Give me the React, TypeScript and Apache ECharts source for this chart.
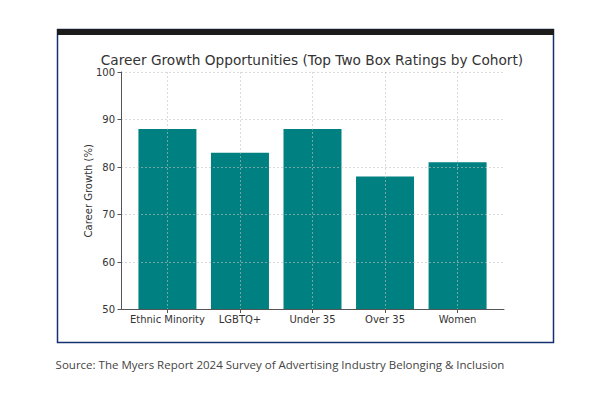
import React, { useEffect, useRef } from "react";
import * as echarts from "echarts";

const categories = ["Ethnic Minority", "LGBTQ+", "Under 35", "Over 35", "Women"];
const values = [88, 83, 88, 78, 81];
const titleText = "Career Growth Opportunities (Top Two Box Ratings by Cohort)";
const yAxisName = "Career Growth (%)";
const sourceText = "Source: The Myers Report 2024 Survey of Advertising Industry Belonging & Inclusion";

export default function App() {
  const ref = useRef<HTMLDivElement>(null);
  useEffect(() => {
    if (!ref.current) return;
    const chart = echarts.init(ref.current, undefined, { renderer: "svg" });
    const idx = categories.map((_, i) => i);
    const grid = "rgba(195,195,195,0.75)";
    chart.setOption({
      animation: false,
      backgroundColor: "#ffffff",
      grid: { left: 121, right: 108, top: 72, bottom: 103.5 },
      xAxis: {
        type: "value",
        min: -0.64,
        max: 4.64,
        z: 5,
        axisLine: { show: true, onZero: false, lineStyle: { color: "#555", width: 1 } },
        axisTick: { show: true, customValues: idx, length: 3.5, lineStyle: { color: "#555" } },
        axisLabel: {
          customValues: idx,
          formatter: (v: number) => categories[Math.round(v)] ?? "",
          fontFamily: "DejaVu Sans",
          fontSize: 10,
          color: "#333",
          margin: 5,
        },
        splitLine: { show: true, lineStyle: { color: grid, type: [2, 2], width: 0.8 } },
      },
      yAxis: {
        type: "value",
        min: 50,
        max: 100,
        interval: 10,
        z: 5,
        name: yAxisName,
        nameLocation: "middle",
        nameGap: 28,
        nameMoveOverlap: false,
        nameRotate: 90,
        nameTextStyle: { fontFamily: "DejaVu Sans", fontSize: 10, color: "#333" },
        axisLine: { show: true, onZero: false, lineStyle: { color: "#555", width: 1 } },
        axisTick: { show: true, length: 3.5, lineStyle: { color: "#555" } },
        axisLabel: { fontFamily: "DejaVu Sans", fontSize: 10, color: "#333", margin: 6 },
        splitLine: { show: true, lineStyle: { color: grid, type: [2, 2], width: 0.8 } },
      },
      series: [
        {
          type: "bar",
          z: 2,
          data: values.map((v, i) => [i, v]),
          barWidth: 58,
          itemStyle: { color: "#008080" },
        },
      ],
      graphic: [
        {
          type: "rect",
          shape: { x: 57.5, y: 29.5, width: 496, height: 313 },
          style: { fill: "none", stroke: "#14306e", lineWidth: 1.5 },
          silent: true,
        },
        {
          type: "rect",
          shape: { x: 57, y: 29, width: 497, height: 6 },
          style: { fill: "#1c1c1c" },
          silent: true,
        },
        {
          type: "text",
          style: {
            text: titleText,
            x: 312,
            y: 59.5,
            align: "center",
            verticalAlign: "middle",
            font: "13.7px 'DejaVu Sans'",
            fill: "#333",
          },
        },
        {
          type: "text",
          style: {
            text: sourceText,
            x: 280,
            y: 364,
            align: "center",
            verticalAlign: "middle",
            font: "11.5px 'Open Sans'",
            fill: "#444",
          },
        },
      ],
    });
    return () => chart.dispose();
  }, []);
  return (
    <div
      ref={ref}
      style={{ position: "absolute", left: 0, top: 0, width: 612, height: 413 }}
    />
  );
}
